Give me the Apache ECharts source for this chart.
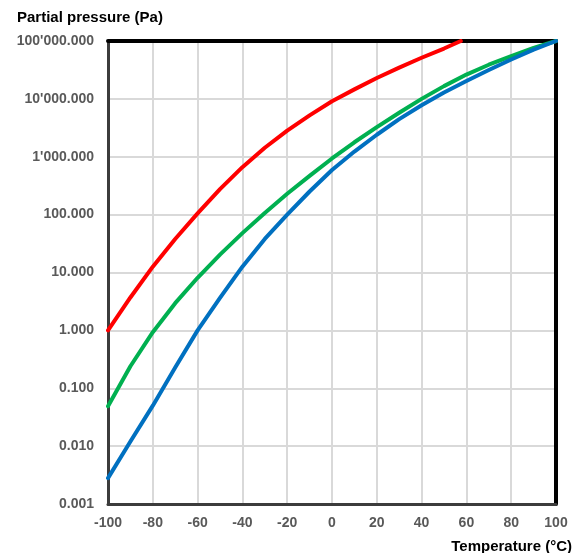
<!DOCTYPE html>
<html>
<head>
<meta charset="utf-8">
<script src="https://cdn.jsdelivr.net/npm/echarts@6/dist/echarts.min.js"></script>
<style>
  html, body { margin: 0; padding: 0; background: #fff; }
  #chart { width: 582px; height: 553px; }
</style>
</head>
<body>
<div id="chart"></div>
<script>
// temperatures (°C)
var temps = [-100, -90, -80, -70, -60, -50, -40, -30, -20, -10, 0, 10, 20, 30, 40, 50, 60, 70, 80, 90, 100];
var tempsRed = [-100, -90, -80, -70, -60, -50, -40, -30, -20, -10, 0, 10, 20, 30, 40, 50, 57.5];

// partial pressure (Pa)
var redValues = [1.0, 3.7, 12.6, 38, 105, 275, 661, 1430, 2820, 5190, 9120, 14600, 22900, 34700, 51300, 74100, 100000];
var greenValues = [0.049, 0.24, 0.93, 2.95, 8.1, 20.4, 47.9, 107, 229, 468, 933, 1780, 3240, 5750, 10000, 16600, 26300, 38900, 55000, 75900, 100000];
var blueValues = [0.0028, 0.012, 0.050, 0.229, 1.0, 3.63, 12.6, 38, 100, 251, 589, 1230, 2400, 4470, 7760, 12900, 20400, 31600, 47900, 70800, 100000];

var xTicks = [-100, -80, -60, -40, -20, 0, 20, 40, 60, 80, 100];

var colorLine = ['#ff0000', '#00b050', '#0070c0'];

function pairs(xs, ys) {
    var out = [];
    for (var i = 0; i < xs.length; i++) {
        out.push([xs[i], ys[i]]);
    }
    return out;
}

// 100000 -> 100'000.000
function fmtPa(v) {
    var s = Number(v).toFixed(3);
    var parts = s.split('.');
    parts[0] = parts[0].replace(/\B(?=(\d{3})+(?!\d))/g, "'");
    return parts.join('.');
}

var chart = echarts.init(document.getElementById('chart'));

var lineSeries = [
    { name: 'red', xs: tempsRed, ys: redValues },
    { name: 'green', xs: temps, ys: greenValues },
    { name: 'blue', xs: temps, ys: blueValues }
];

var seriesData = [];
lineSeries.forEach(function (p, k) {
    seriesData.push({
        name: p.name,
        type: 'line',
        smooth: false,
        showSymbol: false,
        clip: true,
        z: 3,
        lineStyle: { color: colorLine[k], width: 4, join: 'round', cap: 'round' },
        itemStyle: { color: colorLine[k] },
        data: pairs(p.xs, p.ys)
    });
});

var labelFont = { fontFamily: 'Liberation Sans', fontWeight: 'bold', fontSize: 14, color: '#595959' };

var option = {
    animation: false,
    backgroundColor: '#fff',
    title: [
        {
            text: 'Partial pressure (Pa)',
            left: 12,
            top: 5,
            textStyle: { fontFamily: 'Liberation Sans', fontWeight: 'bold', fontSize: 15, color: '#000' }
        },
        {
            text: 'Temperature (°C)',
            right: 5,
            top: 534,
            textStyle: { fontFamily: 'Liberation Sans', fontWeight: 'bold', fontSize: 15, color: '#000' }
        }
    ],
    grid: {
        left: 108,
        right: 26,
        top: 41,
        bottom: 49
    },
    xAxis: [
        {
            type: 'value',
            min: -100,
            max: 100,
            interval: 20,
            axisLine: { show: true, onZero: false, lineStyle: { color: '#3c3c3c', width: 3 } },
            axisTick: { show: false },
            axisLabel: Object.assign({
                margin: 12,
                formatter: function (v) { return xTicks.indexOf(v) >= 0 ? String(v) : ''; }
            }, labelFont),
            splitLine: { show: true, lineStyle: { color: '#d9d9d9', width: 2 } }
        },
        {
            // top frame line
            type: 'value',
            position: 'top',
            min: -100,
            max: 100,
            axisLine: { show: true, onZero: false, lineStyle: { color: '#000', width: 4 } },
            axisTick: { show: false },
            axisLabel: { show: false },
            splitLine: { show: false }
        }
    ],
    yAxis: [
        {
            type: 'log',
            logBase: 10,
            min: 0.001,
            max: 100000,
            interval: 1,
            axisLine: { show: true, onZero: false, lineStyle: { color: '#3c3c3c', width: 3 } },
            axisTick: { show: false },
            minorTick: { show: false },
            axisLabel: Object.assign({ margin: 14, formatter: fmtPa }, labelFont),
            splitLine: { show: true, lineStyle: { color: '#d9d9d9', width: 2 } }
        },
        {
            // right frame line
            type: 'log',
            logBase: 10,
            position: 'right',
            min: 0.001,
            max: 100000,
            axisLine: { show: true, onZero: false, lineStyle: { color: '#000', width: 4 } },
            axisTick: { show: false },
            axisLabel: { show: false },
            splitLine: { show: false }
        }
    ],
    series: seriesData
};

chart.setOption(option);
window.onresize = chart.resize;
</script>
</body>
</html>
